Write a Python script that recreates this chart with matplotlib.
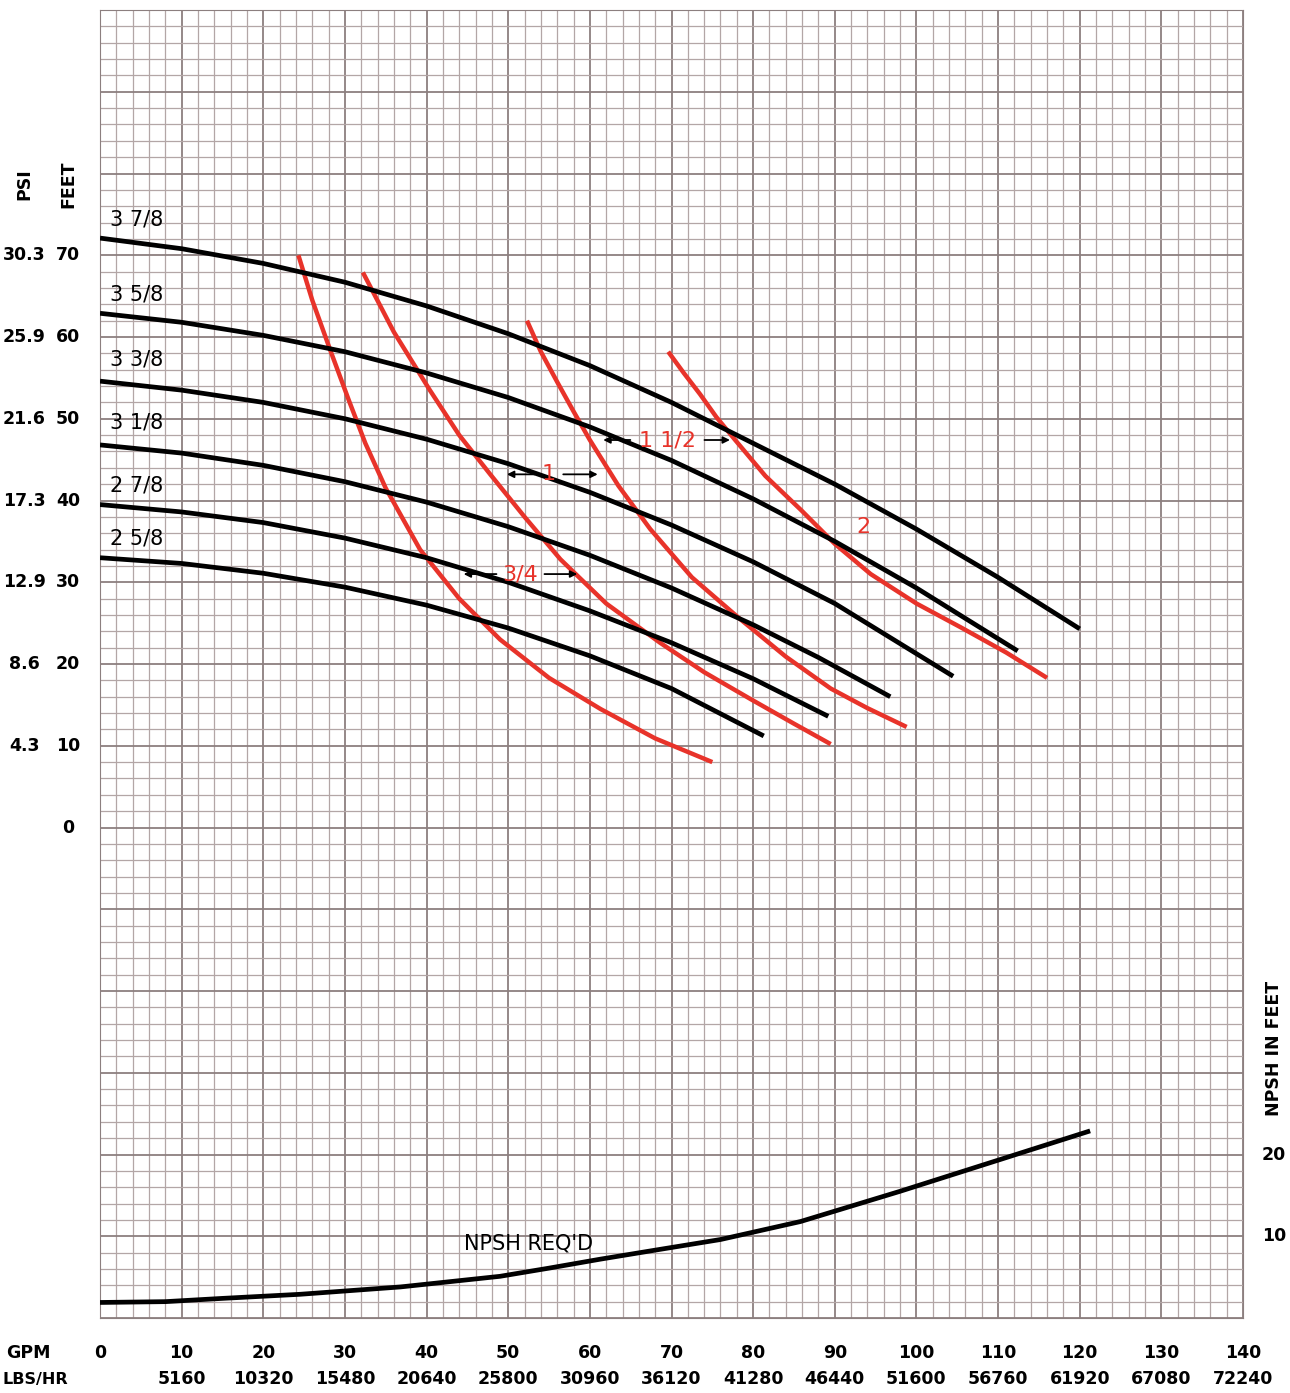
import matplotlib.pyplot as plt
from matplotlib.ticker import MultipleLocator

# head curves per impeller size: GPM, FEET
head_gpm = {
    "3 7/8": [0, 10, 20, 30, 40, 50, 60, 70, 80, 90, 100, 110, 120],
    "3 5/8": [0, 10, 20, 30, 40, 50, 60, 70, 80, 90, 100, 112.4],
    "3 3/8": [0, 10, 20, 30, 40, 50, 60, 70, 80, 90, 104.5],
    "3 1/8": [0, 10, 20, 30, 40, 50, 60, 70, 80, 88, 96.8],
    "2 7/8": [0, 10, 20, 30, 40, 50, 60, 70, 80, 89.2],
    "2 5/8": [0, 10, 20, 30, 40, 50, 60, 70, 81.3],
}
head_ft = {
    "3 7/8": [72.1, 70.8, 69.0, 66.7, 63.8, 60.4, 56.5, 52.0, 47.0, 42.0, 36.5, 30.6, 24.3],
    "3 5/8": [62.9, 61.8, 60.2, 58.2, 55.6, 52.6, 49.0, 44.9, 40.2, 35.0, 29.3, 21.6],
    "3 3/8": [54.6, 53.5, 52.0, 50.0, 47.5, 44.5, 41.0, 37.0, 32.5, 27.4, 18.5],
    "3 1/8": [46.8, 45.8, 44.3, 42.3, 39.8, 36.8, 33.3, 29.3, 24.8, 20.8, 16.0],
    "2 7/8": [39.5, 38.6, 37.3, 35.4, 33.0, 30.0, 26.5, 22.6, 18.2, 13.6],
    "2 5/8": [33.0, 32.3, 31.1, 29.4, 27.2, 24.4, 21.0, 17.0, 11.2],
}
label_ft = [74.4, 65.2, 57.2, 49.5, 41.8, 35.3]

# red curves (pipe size lines)
red_gpm = [
    [24.3, 26, 28.2, 30.5, 32.5, 35, 39.2, 44, 49, 55, 61.3, 68, 75],
    [32.2, 36, 40.4, 44, 47.8, 52, 56.4, 62, 68.6, 74, 79.7, 85, 89.5],
    [52.3, 54, 56, 58, 60, 63.5, 67.4, 72.5, 78.4, 84, 89.5, 94, 98.8],
    [69.6, 71.5, 73.5, 75.5, 77.8, 81.5, 85.8, 90, 94.4, 100, 105.4, 111, 116],
]
red_ft = [
    [70.0, 64.5, 58.4, 52.2, 47.0, 41.5, 34.0, 28.0, 23.0, 18.3, 14.5, 10.9, 8.0],
    [67.9, 60.6, 53.5, 48.0, 43.2, 38.0, 32.8, 27.4, 22.6, 19.0, 15.7, 12.7, 10.2],
    [62.0, 58.2, 54.5, 50.9, 47.4, 41.8, 36.5, 30.6, 25.5, 20.9, 17.0, 14.6, 12.3],
    [58.2, 55.6, 53.0, 50.2, 47.4, 43.0, 38.9, 34.7, 31.0, 27.4, 24.5, 21.4, 18.3],
]

# NPSH required
npsh_gpm = [0, 8, 15, 24.5, 36.8, 49, 55, 61.3, 68, 76, 85.8, 98, 110.3, 121]
npsh_ft = [1.9, 2.0, 2.4, 2.9, 3.8, 5.1, 6.1, 7.2, 8.3, 9.6, 11.8, 15.5, 19.4, 22.8]

gpm_ticks = list(range(0, 141, 10))
lbs_ticks = ["", "5160", "10320", "15480", "20640", "25800", "30960", "36120",
             "41280", "46440", "51600", "56760", "61920", "67080", "72240"]
feet_ticks = [0, 10, 20, 30, 40, 50, 60, 70]
psi_ticks = ["", "4.3", "8.6", "12.9", "17.3", "21.6", "25.9", "30.3"]
npsh_ticks = [10, 20]

plt.rcParams['font.family'] = ['DejaVu Sans']
W, H = 1290, 1393
fig = plt.figure(figsize=(W / 100, H / 100), dpi=100)
ax = fig.add_axes([100 / W, 1 - 1318 / H, 1143 / W, 1308 / H])
ax.set_xlim(0, 140)
ax.set_ylim(-60, 100)
ax.xaxis.set_minor_locator(MultipleLocator(2))
ax.yaxis.set_minor_locator(MultipleLocator(2))
ax.xaxis.set_major_locator(MultipleLocator(10))
ax.yaxis.set_major_locator(MultipleLocator(10))
ax.grid(which='major', color='#8c7f7f', lw=1.3)
ax.grid(which='minor', color='#b3a6a6', lw=0.9)
ax.tick_params(which='both', length=0, labelbottom=False, labelleft=False)
for s in ax.spines.values():
    s.set_color('#8c7f7f')

for (name, xs), lab in zip(head_gpm.items(), label_ft):
    ax.plot(xs, head_ft[name], color='black', lw=3.4, solid_capstyle='butt', zorder=4)
    ax.text(1.2, lab, name, fontsize=15, color='black', va='center', zorder=5)

for xs, ys in zip(red_gpm, red_ft):
    ax.plot(xs, ys, color='#e8332a', lw=3.2, solid_capstyle='butt', zorder=3)

# pipe size labels with arrows: text, x, y, left end, right end, text half width
pipe_labels = [("3/4", 51.5, 31.0, 44.2, 58.8, 2.6), ("1", 55.0, 43.2, 49.5, 61.3, 1.4),
               ("1 1/2", 69.5, 47.4, 61.3, 77.5, 4.2)]
for txt, x, y, xl, xr, hw in pipe_labels:
    ax.text(x, y, txt, fontsize=16, color='#e8332a', ha='center', va='center', zorder=6)
    ax.annotate('', xy=(xl, y), xytext=(x - hw, y),
                arrowprops=dict(arrowstyle='-|>', color='black', lw=1.3), zorder=6)
    ax.annotate('', xy=(xr, y), xytext=(x + hw, y),
                arrowprops=dict(arrowstyle='-|>', color='black', lw=1.3), zorder=6)
ax.text(93.5, 36.7, "2", fontsize=16, color='#e8332a', ha='center', va='center', zorder=6)

ax.plot(npsh_gpm, [v - 60 for v in npsh_ft], color='black', lw=3.4, zorder=4)
ax.text(52.5, -50.9, "NPSH REQ'D", fontsize=15, ha='center', va='center', zorder=5)

# outer tick labels
fs = 12.5
kw = dict(fontsize=fs, ha='center', va='center', weight='bold', clip_on=False)
for g, l in zip(gpm_ticks, lbs_ticks):
    ax.text(g, -64.3, str(g), **kw)
    ax.text(g, -67.5, l, **kw)
ax.text(-8.8, -64.3, "GPM", **kw)
ax.text(-7.9, -67.5, "LBS/HR", fontsize=11.5, ha='center', va='center', weight='bold', clip_on=False)
for f, p in zip(feet_ticks, psi_ticks):
    ax.text(-3.9, f, str(f), **kw)
    ax.text(-9.3, f, p, **kw)
ax.text(-9.3, 78.7, "PSI", rotation=90, **kw)
ax.text(-3.9, 78.7, "FEET", rotation=90, **kw)
for n in npsh_ticks:
    ax.text(143.8, n - 60, str(n), **kw)
ax.text(143.8, -27, "NPSH IN FEET", rotation=90, **kw)

fig.savefig("out.png", dpi=100, facecolor='white')
